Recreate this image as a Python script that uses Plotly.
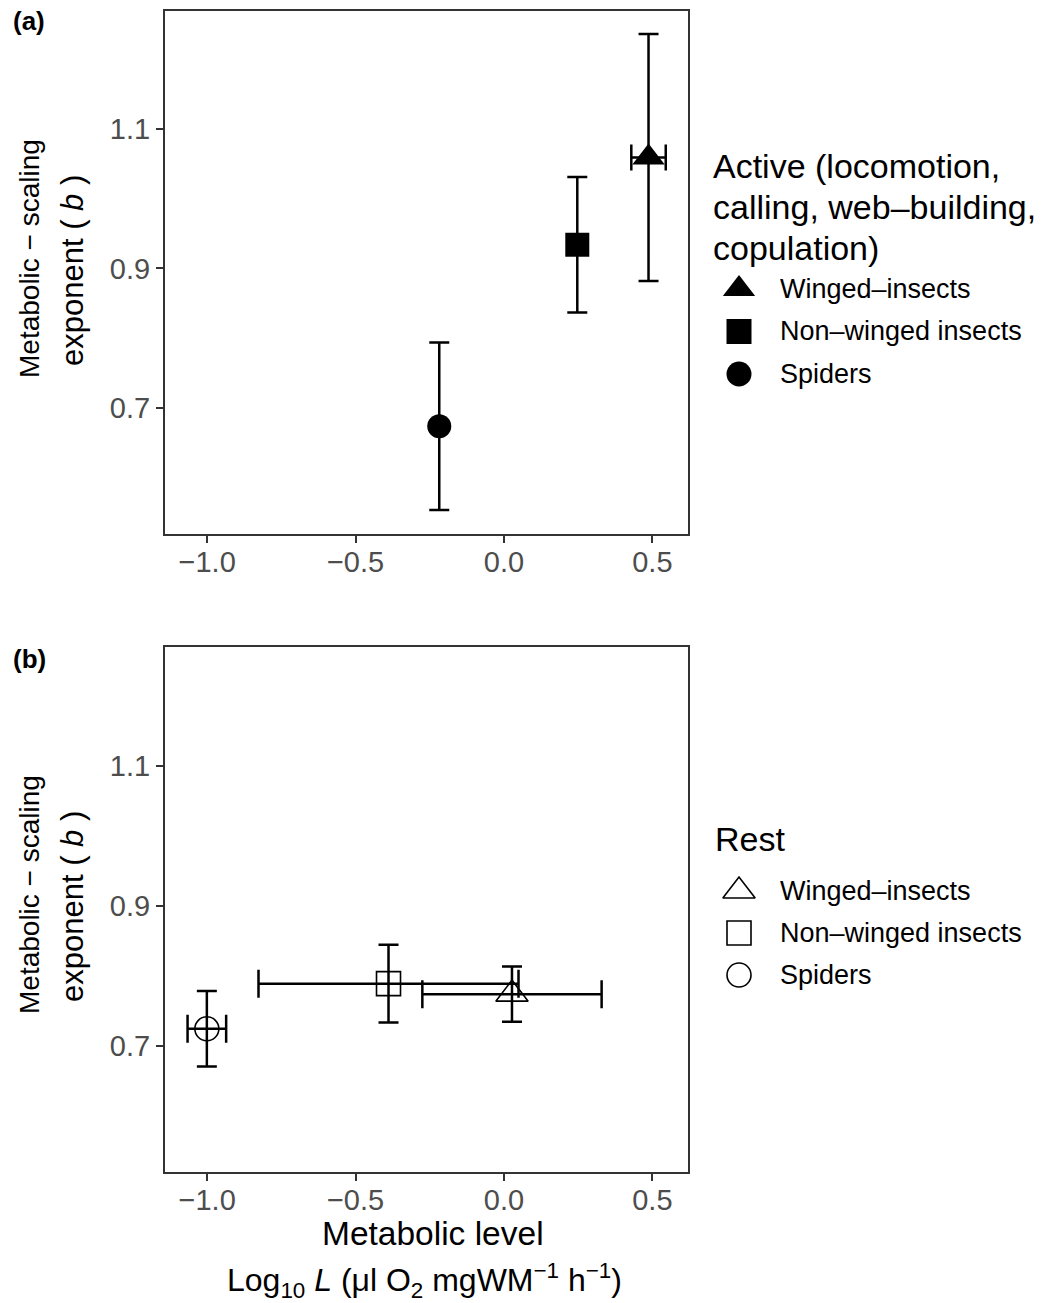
import plotly.graph_objects as go

W, H = 1048, 1303

# ---------------- data ----------------
groups = ["Winged–insects", "Non–winged insects", "Spiders"]

# Panel (a): active metabolism
active_L = [0.487, 0.247, -0.218]
active_L_err = [0.058, 0.0, 0.0]
active_b = [1.059, 0.934, 0.674]
active_b_err = [0.177, 0.097, 0.120]

# Panel (b): rest
rest_L = [0.027, -0.389, -1.001]
rest_L_err = [0.302, 0.438, 0.065]
rest_b = [0.7735, 0.7885, 0.724]
rest_b_err = [0.0395, 0.0555, 0.054]

x_ticks = [-1.0, -0.5, 0.0, 0.5]
x_tick_labels = ["−1.0", "−0.5", "0.0", "0.5"]
y_ticks = [0.7, 0.9, 1.1]
y_tick_labels = ["0.7", "0.9", "1.1"]

# ---------------- styles ----------------
FONT = "Liberation Sans, Arial, Helvetica, sans-serif"
filled_symbols = ["triangle-up", "square", "circle"]
open_symbols = ["triangle-up-open", "square-open", "circle-open"]
filled_sizes = [28, 24, 24]
open_sizes = [28, 24, 24]
ERR_W = 2.5


def px(x):
    return x / W


def py(y):
    return 1 - y / H


fig = go.Figure()

# panel a traces
for i, g in enumerate(groups):
    ex = dict(type="data", array=[active_L_err[i]], color="black",
              thickness=ERR_W, width=13, visible=active_L_err[i] > 0)
    fig.add_trace(go.Scatter(
        x=[active_L[i]], y=[active_b[i]], mode="markers", name=g,
        marker=dict(symbol=filled_symbols[i], size=filled_sizes[i], color="black",
                    opacity=1, line=dict(width=0)),
        error_y=dict(type="data", array=[active_b_err[i]], color="black",
                     thickness=ERR_W, width=10),
        error_x=ex, xaxis="x", yaxis="y", showlegend=False))

# panel b traces
for i, g in enumerate(groups):
    fig.add_trace(go.Scatter(
        x=[rest_L[i]], y=[rest_b[i]], mode="markers", name=g,
        marker=dict(symbol=open_symbols[i], size=open_sizes[i], color="black",
                    opacity=1, line=dict(width=1.6, color="black")),
        error_y=dict(type="data", array=[rest_b_err[i]], color="black",
                     thickness=ERR_W, width=10),
        error_x=dict(type="data", array=[rest_L_err[i]], color="black",
                     thickness=ERR_W, width=14),
        xaxis="x2", yaxis="y2", showlegend=False))

# ---------------- manual legends (overlay pixel axis) ----------------
LEG_MX = 739
LEG_TX = 778
rows_a = [289 + 42.5 * k for k in range(len(groups))]
rows_b = [891 + 42 * k for k in range(len(groups))]

fig.add_trace(go.Scatter(
    x=[LEG_MX] * len(groups), y=rows_a, mode="markers",
    marker=dict(symbol=filled_symbols, size=[28, 25, 25], color="black", opacity=1,
                line=dict(width=0)),
    xaxis="x3", yaxis="y3", showlegend=False, hoverinfo="skip", cliponaxis=False))
fig.add_trace(go.Scatter(
    x=[LEG_MX] * len(groups), y=rows_b, mode="markers",
    marker=dict(symbol=open_symbols, size=[28, 24, 24], color="black", opacity=1,
                line=dict(width=1.6, color="black")),
    xaxis="x3", yaxis="y3", showlegend=False, hoverinfo="skip", cliponaxis=False))

annotations = []
for rows in (rows_a, rows_b):
    for g, r in zip(groups, rows):
        annotations.append(dict(x=px(LEG_TX), y=py(r), xref="paper", yref="paper",
                                text=g, showarrow=False, xanchor="left", yanchor="middle",
                                font=dict(size=27, color="black", family=FONT)))

title_a_lines = ["Active (locomotion,", "calling, web–building,", "copulation)"]
for k, t in enumerate(title_a_lines):
    annotations.append(dict(x=px(711), y=py(166 + 41 * k), xref="paper", yref="paper",
                            text=t, showarrow=False, xanchor="left", yanchor="middle",
                            font=dict(size=34, color="black", family=FONT)))
annotations.append(dict(x=px(713), y=py(839), xref="paper", yref="paper",
                        text="Rest", showarrow=False, xanchor="left", yanchor="middle",
                        font=dict(size=34, color="black", family=FONT)))

# panel tags
for tag, yy in (("(a)", 21), ("(b)", 659)):
    annotations.append(dict(x=px(11), y=py(yy), xref="paper", yref="paper",
                            text="<b>%s</b>" % tag, showarrow=False, xanchor="left",
                            yanchor="middle", font=dict(size=26, color="black", family=FONT)))

# y titles
for off in (0, 636):
    annotations.append(dict(x=px(29), y=py(259 + off), xref="paper", yref="paper",
                            text="Metabolic − scaling", textangle=-90, showarrow=False,
                            xanchor="center", yanchor="middle",
                            font=dict(size=28, color="black", family=FONT)))
    annotations.append(dict(x=px(72), y=py(271 + off), xref="paper", yref="paper",
                            text="exponent ( <i>b</i> )", textangle=-90, showarrow=False,
                            xanchor="center", yanchor="middle",
                            font=dict(size=31, color="black", family=FONT)))

# x titles
annotations.append(dict(x=px(433), y=py(1233), xref="paper", yref="paper",
                        text="Metabolic level", showarrow=False,
                        xanchor="center", yanchor="middle",
                        font=dict(size=33.5, color="black", family=FONT)))
annotations.append(dict(x=px(424), y=py(1280), xref="paper", yref="paper",
                        text="Log<sub>10</sub> <i>L</i> (μl O<sub>2</sub> mgWM<sup>−1</sup> h<sup>−1</sup>)",
                        showarrow=False, xanchor="center", yanchor="middle",
                        font=dict(size=32, color="black", family=FONT)))

# ---------------- axes ----------------
X_RANGE = [-1.142, 0.620]
Y_RANGE = [0.519, 1.269]
xdom = [165 / W, 688 / W]
ydom_a = [1 - 534.3 / H, 1 - 11 / H]
ydom_b = [1 - 1172.3 / H, 1 - 647.3 / H]

axis_common = dict(showline=True, mirror=True, linecolor="#333333", linewidth=2,
                   ticks="outside", ticklen=7, tickwidth=2, tickcolor="#333333",
                   showgrid=False, zeroline=False,
                   tickfont=dict(size=29, color="#4D4D4D", family=FONT))

fig.update_layout(
    width=W, height=H,
    margin=dict(l=0, r=0, t=0, b=0),
    paper_bgcolor="white", plot_bgcolor="rgba(0,0,0,0)",
    font=dict(family=FONT),
    showlegend=False,
    xaxis=dict(domain=xdom, range=X_RANGE, tickvals=x_ticks, ticktext=x_tick_labels,
               anchor="y", ticklabelstandoff=-6, **axis_common),
    yaxis=dict(domain=ydom_a, range=Y_RANGE, tickvals=y_ticks, ticktext=y_tick_labels,
               anchor="x", **axis_common),
    xaxis2=dict(domain=xdom, range=X_RANGE, tickvals=x_ticks, ticktext=x_tick_labels,
                anchor="y2", ticklabelstandoff=-6, **axis_common),
    yaxis2=dict(domain=ydom_b, range=Y_RANGE, tickvals=y_ticks, ticktext=y_tick_labels,
                anchor="x2", **axis_common),
    xaxis3=dict(domain=[0, 1], range=[0, W], visible=False, fixedrange=True, anchor="y3"),
    yaxis3=dict(domain=[0, 1], range=[H, 0], visible=False, fixedrange=True, anchor="x3"),
    annotations=annotations,
)

fig.write_html("out.html")
